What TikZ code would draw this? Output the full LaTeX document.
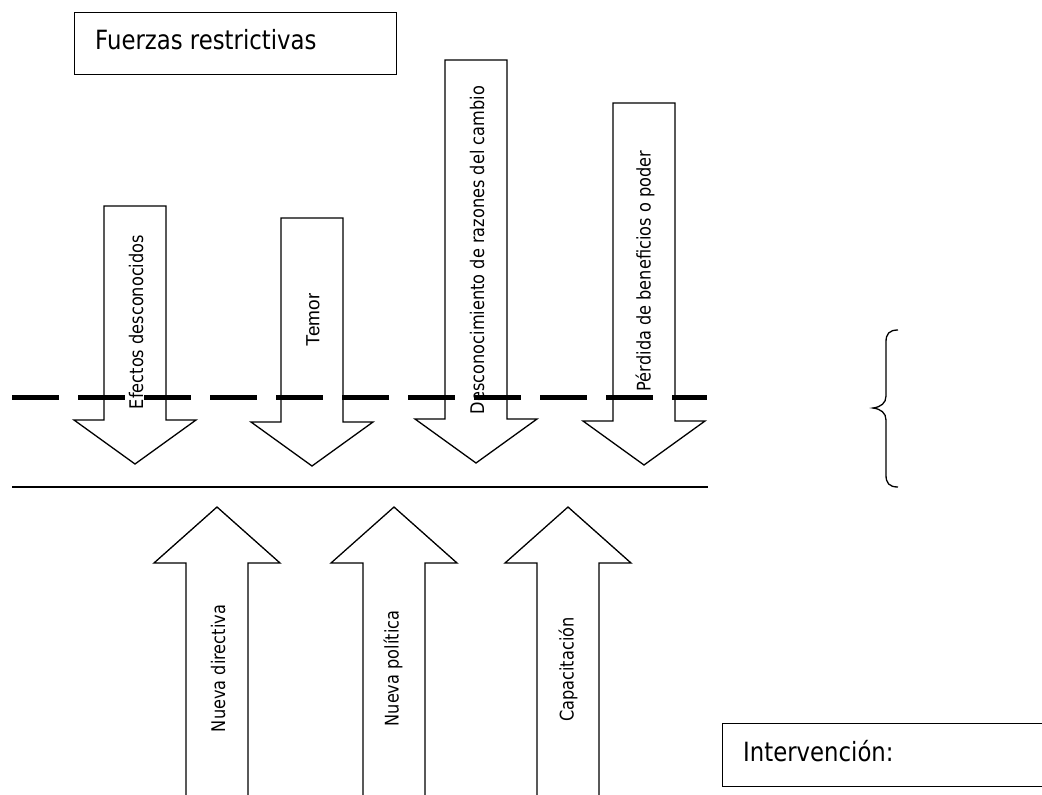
\documentclass[tikz,border=0pt]{standalone}
\usepackage{fontspec}
\setmainfont{DejaVu Sans}
\newfontfamily\tahoma[FakeStretch=0.86]{DejaVu Sans}
\newfontfamily\arial{Liberation Sans}
\tikzstyle{every picture}+=[
  tbox/.style={draw,line width=1.2pt,shape=rectangle,anchor=north west,inner sep=0pt},
  tlabel/.style={anchor=base west,inner sep=0pt,font=\tahoma\fontsize{26.5}{30}\selectfont},
  flabel/.style={rotate=90,inner sep=0pt,font=\tahoma\fontsize{18.8}{22}\selectfont},
  dlabel/.style={rotate=90,inner sep=0pt,font=\arial\fontsize{19}{22}\selectfont}
]
\newcommand*{\forcedown}[3]{\draw[fill=white,line width=1.3pt] (#1-31,#2) -- (#1+31,#2) -- (#1+31,#3) -- (#1+61,#3) -- (#1,#3+44) -- (#1-61,#3) -- (#1-31,#3) -- cycle}
\newcommand*{\forceup}[1]{\draw[fill=white,line width=1.3pt] (#1-31,810) -- (#1-31,563) -- (#1-63,563) -- (#1,507) -- (#1+63,563) -- (#1+31,563) -- (#1+31,810)}
\def\dashy{397}

\begin{document}
\begin{tikzpicture}[x=1pt,y=-1pt]
      \useasboundingbox (0,0) rectangle (1042,795);
      \clip (0,0) rectangle (1042,795);
      %
      \node[style=tbox,minimum width=322pt,minimum height=62pt] (fuerzas) at (74,12) {};
      \node[style=tlabel] (fuerzastxt) at (95,49) {Fuerzas restrictivas};
      %
      \forcedown{135}{206}{420};
      \forcedown{312}{218}{422};
      \forcedown{476}{60}{419};
      \forcedown{644}{103}{421};
      %
      \draw[line width=5pt,dash pattern=on 47pt off 19pt] (12,\dashy) -- (707,\dashy);
      \draw[line width=1.3pt] (12,487) -- (708,487);
      %
      \node[style=flabel] (efectos) at (136,322) {Efectos desconocidos};
      \node[style=dlabel] (temor) at (313,320) {Temor};
      \node[style=flabel] (razones) at (477,250) {Desconocimiento de razones del cambio};
      \node[style=flabel] (perdida) at (645,271) {Pérdida de beneficios o poder};
      %
      \forceup{217};
      \forceup{394};
      \forceup{568};
      %
      \node[style=flabel] (directiva) at (218,668.5) {Nueva directiva};
      \node[style=flabel] (politica) at (393,668.5) {Nueva política};
      \node[style=flabel] (capacita) at (568,669.5) {Capacitación};
      %
      \draw[line width=1.3pt] (898,330) .. controls (889,330) and (886,334) .. (886,342) -- (886,396) .. controls (886,403) and (881,407) .. (873,408) .. controls (881,409) and (886,413) .. (886,420) -- (886,475) .. controls (886,483) and (889,487) .. (898,487);
      %
      \node[style=tbox,minimum width=360pt,minimum height=63pt] (interv) at (722,723) {};
      \node[style=tlabel] (intervtxt) at (743,761) {Intervención:};
      %
    \end{tikzpicture}
\end{document}
